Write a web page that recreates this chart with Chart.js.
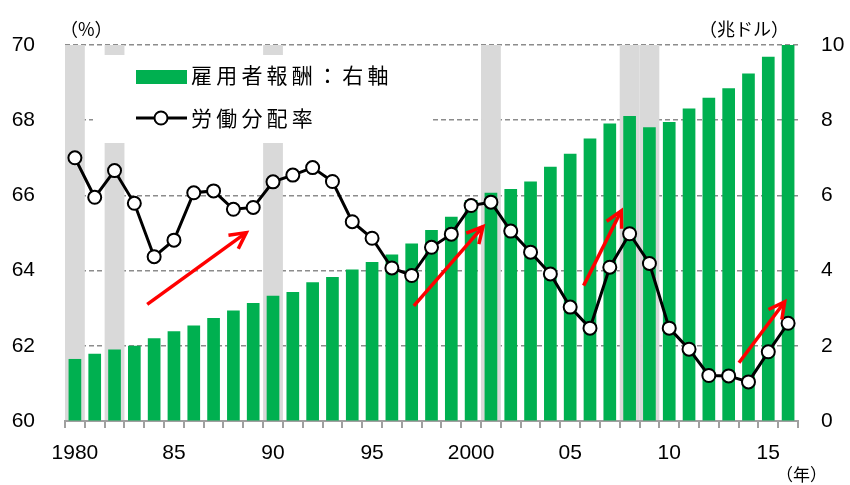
<!DOCTYPE html>
<html>
<head>
<meta charset="utf-8">
<script src="https://cdn.jsdelivr.net/npm/chart.js@4.4.1/dist/chart.umd.min.js"></script>
<style>
  body { margin: 0; background: #fff; }
  #wrap { width: 850px; height: 485px; }
</style>
</head>
<body>
<div id="wrap"><canvas id="chart" width="850" height="485"></canvas></div>
<script>
// années 1980 - 2016
const years = [];
for (let y = 1980; y <= 2016; y++) years.push(String(y));

const xTickLabels = ['1980', '85', '90', '95', '2000', '05', '10', '15'];

// 雇用者報酬 (兆ドル, axe de droite)
const compensation = [
    1.65, 1.79, 1.90, 2.00, 2.20, 2.39, 2.54, 2.74, 2.94, 3.14,
    3.33, 3.43, 3.69, 3.83, 4.03, 4.23, 4.43, 4.72, 5.08, 5.43,
    5.88, 6.07, 6.17, 6.37, 6.76, 7.11, 7.51, 7.91, 8.11, 7.81,
    7.95, 8.31, 8.60, 8.85, 9.24, 9.69, 10.0
];

// 労働分配率 (%, axe de gauche)
const laborShare = [
    67.0, 65.95, 66.66, 65.79, 64.37, 64.81, 66.07, 66.12, 65.63, 65.68,
    66.36, 66.54, 66.74, 66.37, 65.30, 64.86, 64.07, 63.87, 64.62, 64.97,
    65.73, 65.82, 65.05, 64.49, 63.91, 63.03, 62.47, 64.09, 64.98, 64.19,
    62.47, 61.91, 61.21, 61.20, 61.04, 61.84, 62.60
];

// années de récession (bandes grises)
const recessionYears = ['1980', '1982', '1990', '2001', '2008', '2009'];

// flèches rouges : [indice année, valeur %] -> [indice année, valeur %]
const arrowFrom = [[3.65, 63.10], [17.11, 63.06], [25.68, 63.60], [33.52, 61.55]];
const arrowTo = [[8.65, 65.01], [20.60, 65.17], [27.58, 65.59], [35.83, 63.17]];

const numFont = '"Liberation Sans", Arial, sans-serif';
const jpFont = '"Noto Sans CJK JP", sans-serif';

// bandes grises + fond blanc de la légende
const bandsPlugin = {
    id: 'bands',
    beforeDatasetsDraw(chart) {
        const ctx = chart.ctx;
        const x = chart.scales.x;
        const area = chart.chartArea;
        const w = x.width / years.length;
        ctx.save();
        ctx.fillStyle = '#d9d9d9';
        recessionYears.forEach((yr) => {
            const cx = x.getPixelForValue(years.indexOf(yr));
            ctx.fillRect(cx - w / 2, area.top, w, area.bottom - area.top - 1);
        });
        // boîte blanche de la légende
        ctx.fillStyle = '#fff';
        ctx.fillRect(93, 55, 338, 88);
        ctx.restore();
    }
};

function drawSpaced(ctx, text, x, y, pitch) {
    for (let i = 0; i < text.length; i++) {
        ctx.fillText(text[i], x + i * pitch, y);
    }
}

// flèches et légende
const overlayPlugin = {
    id: 'overlay',
    afterDatasetsDraw(chart) {
        const ctx = chart.ctx;
        const xs = chart.scales.x;
        const ys = chart.scales.y;
        ctx.save();
        ctx.strokeStyle = '#ff0000';
        ctx.lineWidth = 3.5;
        ctx.lineCap = 'butt';
        arrowFrom.forEach((from, i) => {
            const to = arrowTo[i];
            const x1 = xs.getPixelForValue(from[0]), y1 = ys.getPixelForValue(from[1]);
            const x2 = xs.getPixelForValue(to[0]), y2 = ys.getPixelForValue(to[1]);
            const ang = Math.atan2(y2 - y1, x2 - x1);
            ctx.beginPath();
            ctx.moveTo(x1, y1);
            ctx.lineTo(x2, y2);
            ctx.stroke();
            const len = 18, spread = Math.PI / 6.5;
            ctx.beginPath();
            ctx.moveTo(x2 - len * Math.cos(ang - spread), y2 - len * Math.sin(ang - spread));
            ctx.lineTo(x2, y2);
            ctx.lineTo(x2 - len * Math.cos(ang + spread), y2 - len * Math.sin(ang + spread));
            ctx.stroke();
        });

        // légende
        ctx.fillStyle = '#00b050';
        ctx.fillRect(136, 70, 51, 14);
        ctx.strokeStyle = '#000';
        ctx.lineWidth = 3;
        ctx.beginPath();
        ctx.moveTo(136, 118);
        ctx.lineTo(187, 118);
        ctx.stroke();
        ctx.beginPath();
        ctx.arc(161, 118, 6.5, 0, Math.PI * 2);
        ctx.fillStyle = '#fff';
        ctx.fill();
        ctx.lineWidth = 2;
        ctx.stroke();

        ctx.fillStyle = '#000';
        ctx.font = '21px ' + jpFont;
        ctx.textBaseline = 'middle';
        ctx.textAlign = 'left';
        drawSpaced(ctx, '雇用者報酬：右軸', 191, 75, 25.2);
        drawSpaced(ctx, '労働分配率', 191, 118, 25.2);

        // unités
        ctx.font = '18px ' + jpFont;
        ctx.fillText('（%）', 60, 29);
        ctx.fillText('（兆ドル）', 699, 29);
        ctx.font = '17px ' + jpFont;
        ctx.fillText('（年）', 776, 475);
        ctx.restore();
    }
};

const ctx = document.getElementById('chart').getContext('2d');

new Chart(ctx, {
    data: {
        labels: years,
        datasets: [
            {
                type: 'line',
                label: '労働分配率',
                data: laborShare,
                yAxisID: 'y',
                borderColor: '#000',
                borderWidth: 3,
                pointRadius: 6.5,
                pointBackgroundColor: '#fff',
                pointBorderColor: '#000',
                pointBorderWidth: 2,
                tension: 0,
                order: 0
            },
            {
                type: 'bar',
                label: '雇用者報酬：右軸',
                data: compensation,
                yAxisID: 'y1',
                backgroundColor: '#00b050',
                borderWidth: 0,
                categoryPercentage: 1,
                barPercentage: 0.64,
                order: 1
            }
        ]
    },
    options: {
        responsive: false,
        animation: false,
        layout: { padding: { top: 45, left: 0, right: 0, bottom: 0 } },
        plugins: {
            legend: { display: false },
            tooltip: { enabled: false }
        },
        scales: {
            x: {
                offset: true,
                grid: {
                    offset: true,
                    drawOnChartArea: false,
                    drawTicks: true,
                    tickLength: 7,
                    color: '#a0a0a0',
                    lineWidth: 2
                },
                border: { color: '#a0a0a0', width: 2 },
                ticks: {
                    autoSkip: false,
                    maxRotation: 0,
                    padding: 13,
                    color: '#000',
                    font: { family: numFont, size: 21 },
                    callback: function (val, index) {
                        return index % 5 === 0 ? xTickLabels[index / 5] : '';
                    }
                },
                afterFit: function (scale) { scale.height = 64; }
            },
            y: {
                position: 'left',
                min: 60,
                max: 70,
                ticks: {
                    stepSize: 2,
                    padding: 30,
                    color: '#000',
                    font: { family: numFont, size: 21 }
                },
                grid: {
                    drawTicks: false,
                    color: (c) => (c.tick && c.tick.value === 60 ? 'rgba(0,0,0,0)' : '#8c8c8c'),
                    lineWidth: 1.5
                },
                border: { display: false, dash: [5, 3] },
                afterFit: function (scale) { scale.width = 65; }
            },
            y1: {
                position: 'right',
                min: 0,
                max: 10,
                ticks: {
                    stepSize: 2,
                    padding: 23,
                    color: '#000',
                    font: { family: numFont, size: 21 }
                },
                grid: { drawOnChartArea: false, drawTicks: false },
                border: { display: false },
                afterFit: function (scale) { scale.width = 52; }
            }
        }
    },
    plugins: [bandsPlugin, overlayPlugin]
});
</script>
</body>
</html>
